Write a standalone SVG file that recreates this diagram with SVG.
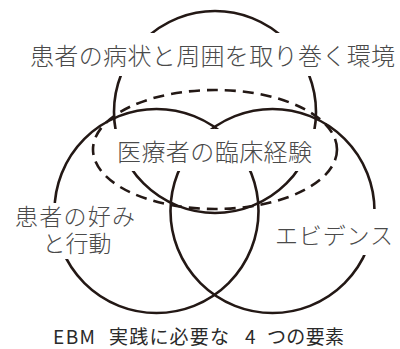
<svg xmlns="http://www.w3.org/2000/svg" width="400" height="349" viewBox="0 0 400 349">
<style>
.c{fill:none;stroke:#231815;stroke-width:2.6}
.d{fill:none;stroke:#231815;stroke-width:2.6;stroke-dasharray:11 7}
.mask{fill:#fff}
.t{font-family:"Noto Sans CJK JP","Noto Sans CJK SC",sans-serif;font-size:24px;font-weight:300;fill:#4a4a4a}
.s{font-size:23px}
.cap{font-family:"Noto Sans CJK JP","Noto Sans CJK SC",sans-serif;font-size:19px;fill:#2a2a2a}
</style>
<rect width="400" height="349" fill="#fff"/>
<g id="connectors">
<circle class="c" cx="215" cy="112" r="101"/>
<circle class="c" cx="156.5" cy="211" r="102"/>
<circle class="c" cx="272.5" cy="211" r="102"/>
<ellipse class="d" cx="215" cy="149.5" rx="122" ry="59.5"/>
</g>
<g id="node-environment">
<rect class="mask" x="25" y="33" width="373" height="43"/>
<text class="t" x="30" y="65" textLength="365">患者の病状と周囲を取り巻く環境</text>
</g>
<g id="node-experience">
<rect class="mask" x="112" y="129" width="206" height="42"/>
<text class="t" x="117" y="161" textLength="195">医療者の臨床経験</text>
</g>
<g id="node-preference">
<rect class="mask" x="12" y="203" width="127" height="56"/>
<text class="t s" x="15" y="225" textLength="120">患者の好み</text>
<text class="t s" x="77" y="252" text-anchor="middle">と行動</text>
</g>
<g id="node-evidence">
<rect class="mask" x="272" y="209" width="126" height="46"/>
<text class="t s" x="275" y="244" textLength="118">エビデンス</text>
</g>
<g id="caption">
<text class="cap" y="344"><tspan x="53" textLength="42">EBM</tspan><tspan x="109" textLength="120">実践に必要な</tspan><tspan x="245">4</tspan><tspan x="267" textLength="77">つの要素</tspan></text>
</g>
</svg>
